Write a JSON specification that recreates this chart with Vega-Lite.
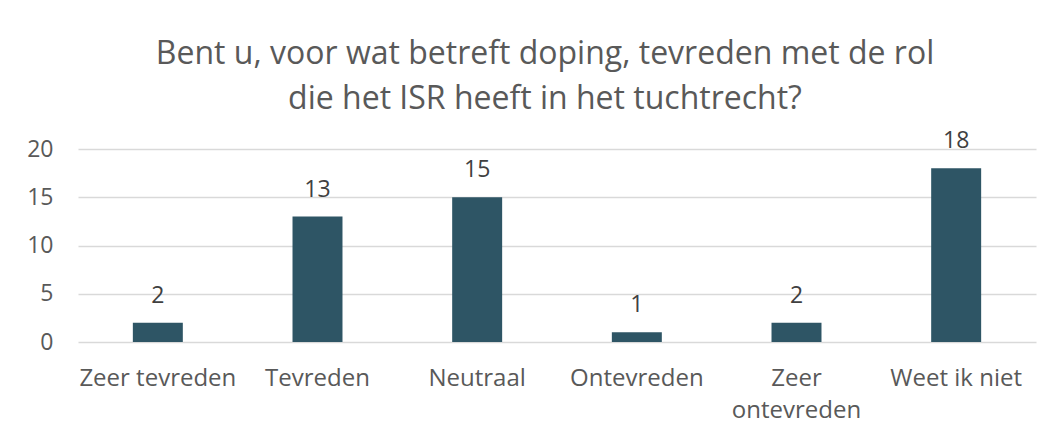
{
  "$schema": "https://vega.github.io/schema/vega-lite/v6.json",
  "autosize": {"type": "none"},
  "width": 958,
  "height": 193,
  "padding": {"left": 78, "top": 149, "right": 18, "bottom": 95},
  "background": "white",
  "title": {
    "text": ["Bent u, voor wat betreft doping, tevreden met de rol", "die het ISR heeft in het tuchtrecht?"],
    "font": "Open Sans",
    "fontSize": 32,
    "fontWeight": "normal",
    "color": "#595959",
    "lineHeight": 45,
    "anchor": "middle",
    "dx": -12,
    "offset": 14
  },
  "data": {
    "values": [
      {"antwoord": "Zeer tevreden", "aantal": 2},
      {"antwoord": "Tevreden", "aantal": 13},
      {"antwoord": "Neutraal", "aantal": 15},
      {"antwoord": "Ontevreden", "aantal": 1},
      {"antwoord": "Zeer ontevreden", "aantal": 2},
      {"antwoord": "Weet ik niet", "aantal": 18}
    ]
  },
  "config": {
    "view": {"stroke": null},
    "font": "Open Sans"
  },
  "encoding": {
    "x": {
      "field": "antwoord",
      "type": "nominal",
      "sort": null,
      "scale": {"paddingInner": 0.687, "paddingOuter": 0.3435},
      "axis": {
        "title": null,
        "labelAngle": 0,
        "domain": false,
        "ticks": false,
        "labelPadding": 24,
        "labelFont": "Open Sans",
        "labelFontSize": 24,
        "labelColor": "#595959",
        "labelLineHeight": 32.6,
        "labelExpr": "datum.label == 'Zeer ontevreden' ? ['Zeer', 'ontevreden'] : datum.label"
      }
    },
    "y": {
      "field": "aantal",
      "type": "quantitative",
      "scale": {"domain": [0, 20]},
      "axis": {
        "title": null,
        "values": [0, 5, 10, 15, 20],
        "domain": false,
        "ticks": false,
        "labelPadding": 25,
        "labelFont": "Open Sans",
        "labelFontSize": 23,
        "labelColor": "#595959",
        "gridColor": "#D9D9D9",
        "gridWidth": 1.5
      }
    }
  },
  "layer": [
    {"mark": {"type": "bar", "color": "#2E5565"}},
    {
      "mark": {"type": "text", "baseline": "bottom", "dy": -15, "font": "Open Sans", "fontSize": 23, "color": "#404040"},
      "encoding": {"text": {"field": "aantal", "type": "quantitative"}}
    }
  ]
}
